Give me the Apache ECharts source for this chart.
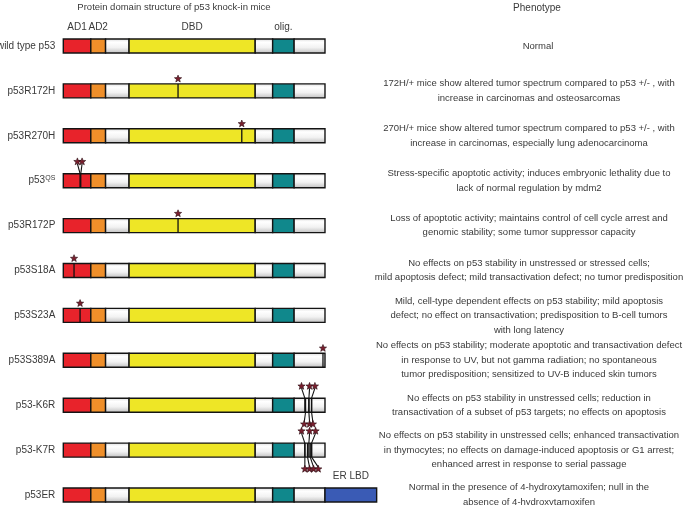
<!DOCTYPE html>
<html><head><meta charset="utf-8">
<script src="https://cdn.jsdelivr.net/npm/echarts@6/dist/echarts.min.js"></script>
<style>html,body{margin:0;padding:0;background:#fff}#c{width:685px;height:505px}</style>
</head><body><div id="c"></div><script>
// ---- data ----
const rows = ['wild type p53','p53R172H','p53R270H','p53QS','p53R172P','p53S18A','p53S23A','p53S389A','p53-K6R','p53-K7R','p53ER'];
const phenotypes = [
 'Normal',
 '172H/+ mice show altered tumor spectrum compared to p53 +/- , with\nincrease in carcinomas and osteosarcomas',
 '270H/+ mice show altered tumor spectrum compared to p53 +/- , with\nincrease in carcinomas, especially lung adenocarcinoma',
 'Stress-specific apoptotic activity; induces embryonic lethality due to\nlack of normal regulation by mdm2',
 'Loss of apoptotic activity; maintains control of cell cycle arrest and\ngenomic stability; some tumor suppressor capacity',
 'No effects on p53 stability in unstressed or stressed cells;\nmild apoptosis defect; mild transactivation defect; no tumor predisposition',
 'Mild, cell-type dependent effects on p53 stability; mild apoptosis\ndefect; no effect on transactivation; predisposition to B-cell tumors\nwith long latency',
 'No effects on p53 stability; moderate apoptotic and transactivation defect\nin response to UV, but not gamma radiation; no spontaneous\ntumor predisposition; sensitized to UV-B induced skin tumors',
 'No effects on p53 stability in unstressed cells; reduction in\ntransactivation of a subset of p53 targets; no effects on apoptosis',
 'No effects on p53 stability in unstressed cells; enhanced transactivation\nin thymocytes; no effects on damage-induced apoptosis or G1 arrest;\nenhanced arrest in response to serial passage',
 'Normal in the presence of 4-hydroxytamoxifen; null in the\nabsence of 4-hydroxytamoxifen'
];
// p53 domains (residue ranges, 390 aa)
const domainNames = ['AD1','AD2','','DBD','','olig.',''];
const domainKinds = ['ad1','ad2','plain','dbd','plain','olig','plain'];
const domainStart = [0, 41, 63, 98, 286, 312, 344];
const domainEnd   = [41, 63, 98, 286, 312, 344, 390];
// fused ER ligand-binding domain (p53ER only)
const erRow = 10, erName = 'ER LBD', erStart = 390, erEnd = 467;
// point mutations: row, residue, star side (1 above / -1 below), residue where star is drawn
const mutRow     = [1,   2,   3,  3,  4,   5,  6,  7,   8,   8,   8,   8,   8,   8,   9,   9,   9,   9,   9,   9,   9];
const mutPos     = [171, 266, 25, 26, 171, 16, 25, 387, 360, 366, 370, 361, 366, 370, 360, 366, 370, 360, 364, 368, 370];
const mutSide    = [1,   1,   1,  1,  1,   1,  1,  1,   1,   1,   1,   -1,  -1,  -1,  1,   1,   1,   -1,  -1,  -1,  -1];
const mutStarPos = [171, 266, 21, 28, 171, 16, 25, 387, 355, 367, 375, 359, 367, 372, 355, 367, 376, 360, 367, 373, 380];
const mutFan     = [0,   0,   1,  1,  0,   0,  0,  0,   1,   1,   1,   1,   1,   1,   1,   1,   1,   1,   1,   1,   1];

// ---- styles ----
const FONT = '"Liberation Sans", Arial, Helvetica, sans-serif';
const TXT = '#3a3a3a';
const kindList = ['ad1','ad2','plain','dbd','olig','er'];
const whiteGrad = new echarts.graphic.LinearGradient(0,0,0,1,[
  {offset:0,color:'#d9d9d9'},{offset:0.25,color:'#ffffff'},{offset:0.6,color:'#f2f2f2'},{offset:1,color:'#bdbdbd'}]);
const fills = {ad1:'#e8232b', ad2:'#ef8f2a', plain:whiteGrad, dbd:'#eee626', olig:'#10888c', er:'#3a5bb5'};

const domainItems = [];
const domainLabels = [];
rows.forEach((r, ri) => {
  domainStart.forEach((s, di) => {
    domainItems.push([ri, s, domainEnd[di], kindList.indexOf(domainKinds[di])]);
    domainLabels.push(ri === 0 ? domainNames[di] : '');
  });
});
domainItems.push([erRow, erStart, erEnd, kindList.indexOf('er')]);
domainLabels.push(erName);

const mutItems = mutRow.map((r, i) => [r, mutPos[i], mutSide[i], mutStarPos[i], mutFan[i]]);

const H = 14;
function starPoints(cx, cy, R, r) {
  const pts = [];
  for (let k = 0; k < 10; k++) {
    const a = -Math.PI / 2 + k * Math.PI / 5;
    const rad = k % 2 ? r : R;
    pts.push([cx + rad * Math.cos(a), cy + rad * Math.sin(a)]);
  }
  return pts;
}

function renderDomain(params, api) {
  const row = api.value(0), s = api.value(1), e = api.value(2), kind = kindList[api.value(3)];
  const p0 = api.coord([s, row]), p1 = api.coord([e, row]);
  const children = [{
    type: 'rect',
    shape: {x: p0[0], y: p0[1] - H / 2, width: p1[0] - p0[0], height: H},
    style: {fill: fills[kind], stroke: '#141414', lineWidth: 1.4}
  }];
  const lab = domainLabels[params.dataIndex];
  if (lab) {
    children.push({
      type: 'text',
      style: {text: lab, x: (p0[0] + p1[0]) / 2, y: p0[1] - H / 2 - 12, align: 'center', verticalAlign: 'middle',
        fontSize: 10, fontFamily: FONT, fill: TXT}
    });
  }
  return {type: 'group', children};
}

function renderMut(params, api) {
  const row = api.value(0), pos = api.value(1), side = api.value(2), sPos = api.value(3), fan = api.value(4);
  const c = api.coord([pos, row]);
  const top = c[1] - H / 2, bot = c[1] + H / 2;
  const sp = api.coord([sPos, row]);
  const children = [{type: 'line', shape: {x1: c[0], y1: top, x2: c[0], y2: bot}, style: {stroke: '#111', lineWidth: 1.3}}];
  let sy;
  if (fan) {
    sy = side > 0 ? top - 12 : bot + 12;
    children.push({type: 'line', shape: {x1: sp[0], y1: sy + (side > 0 ? 2 : -2), x2: c[0], y2: side > 0 ? top : bot},
      style: {stroke: '#111', lineWidth: 1.1}});
  } else {
    sy = side > 0 ? top - 5 : bot + 5;
  }
  children.push({type: 'polygon', shape: {points: starPoints(sp[0], sy, 3.8, 1.6)},
    style: {fill: '#7a1f2e', stroke: '#2a0a10', lineWidth: 0.6}});
  return {type: 'group', children};
}

const chart = echarts.init(document.getElementById('c'), null, {renderer: 'canvas'});
const pxPerAa = 0.671, xMax = 600, gridLeft = 63.3;
const gridRight = 685 - (gridLeft + xMax * pxPerAa);
const textCenterX = 529;
chart.setOption({
  animation: false,
  backgroundColor: '#fff',
  grid: {left: gridLeft, right: gridRight, top: 46, bottom: 10, outerBoundsMode: 'none', containLabel: false},
  xAxis: {type: 'value', min: 0, max: xMax, show: false},
  yAxis: [{
    type: 'category', data: rows, inverse: true, boundaryGap: false,
    axisLine: {show: false}, axisTick: {show: false}, splitLine: {show: false},
    axisLabel: {margin: 8, fontSize: 10, fontFamily: FONT, color: TXT,
      formatter: v => v === 'p53QS' ? 'p53{sup|QS}' : v,
      rich: {sup: {fontSize: 7, fontFamily: FONT, color: TXT, verticalAlign: 'bottom', padding: [0, 0, 6, 0]}}}
  }, {
    type: 'category', data: rows, inverse: true, boundaryGap: false, position: 'right',
    axisLine: {show: false}, axisTick: {show: false}, splitLine: {show: false},
    axisLabel: {margin: textCenterX - (685 - gridRight), align: 'center', fontSize: 9.5, lineHeight: 14.5,
      fontFamily: FONT, color: TXT,
      formatter: (v, i) => i === 0 ? '{n|' + phenotypes[i] + '}' : phenotypes[i],
      rich: {n: {fontSize: 9.5, fontFamily: FONT, color: TXT, padding: [0, 0, 0, 18]}}}
  }],
  graphic: [
    {type: 'text', x: 174, y: 7, style: {text: 'Protein domain structure of p53 knock-in mice', align: 'center', verticalAlign: 'middle', fontSize: 9.5, fontFamily: FONT, fill: TXT}},
    {type: 'text', x: 537, y: 8, style: {text: 'Phenotype', align: 'center', verticalAlign: 'middle', fontSize: 10, fontFamily: FONT, fill: TXT}}
  ],
  series: [
    {type: 'custom', renderItem: renderDomain, data: domainItems, encode: {x: [1, 2], y: 0}, z: 2, clip: false},
    {type: 'custom', renderItem: renderMut, data: mutItems, encode: {x: [1, 3], y: 0}, z: 3, clip: false}
  ]
});
</script></body></html>
